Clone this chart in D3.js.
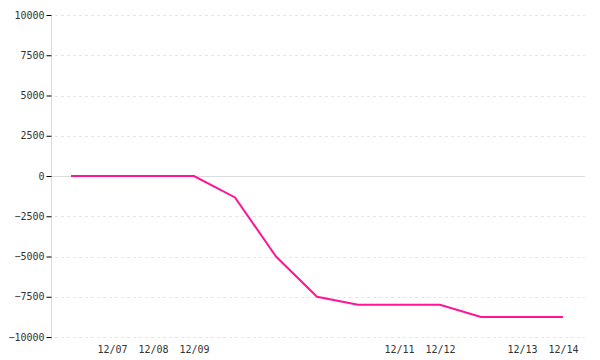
<!DOCTYPE html>
<html><head><meta charset="utf-8">
<script src="https://cdn.jsdelivr.net/npm/d3@7"></script>
<style>body{margin:0;background:#fff}svg text{font-family:"DejaVu Sans Mono",monospace;font-size:10px;fill:#333}</style>
</head><body><svg id="c" width="600" height="360"></svg>
<script>
const categories = ["", "12/07", "12/08", "12/09", "", "", "", "", "12/11", "12/12", "", "12/13", "12/14"];
const values = [0, 0, 0, 0, -1330, -5000, -7500, -8000, -8000, -8000, -8750, -8750, -8750];
const yTicks = [10000, 7500, 5000, 2500, 0, -2500, -5000, -7500, -10000];

const svg = d3.select("#c");
const m = {l: 51, r: 15, t: 15, b: 23};
const W = 600, H = 360;
const idx = categories.map((d, i) => i);
const x = d3.scalePoint().domain(idx).range([71, 563]);
const y = d3.scaleLinear().domain([-10000, 10000]).range([337, 15]);

// grid
svg.append("g").selectAll("line").data(yTicks.filter(d => d !== 0)).join("line")
  .attr("x1", m.l + 4).attr("x2", W - m.r).attr("y1", d => Math.round(y(d)) + 0.5).attr("y2", d => Math.round(y(d)) + 0.5)
  .attr("stroke", "#e6e6e6").attr("stroke-dasharray", "3,3");
svg.append("line").attr("x1", m.l).attr("x2", W - m.r)
  .attr("y1", Math.round(y(0)) + 0.5).attr("y2", Math.round(y(0)) + 0.5).attr("stroke", "#dddddd");

// y axis
const ya = svg.append("g").attr("transform", `translate(${m.l + 0.5},0)`)
  .call(d3.axisLeft(y).tickValues(yTicks).tickSize(5).tickPadding(2).tickFormat(d3.format("d")));
ya.select(".domain").attr("stroke", "#dddddd").attr("d", `M0,${y(10000)}V${y(-10000) + 3}`);
ya.selectAll(".tick line").attr("stroke", "#000");
ya.selectAll(".tick text").attr("fill", "#333");

// x axis labels
const xa = svg.append("g").attr("transform", `translate(0,${y(-10000)})`)
  .call(d3.axisBottom(x).tickSize(0).tickPadding(9).tickFormat(i => categories[i]));
xa.select(".domain").remove();

// line
svg.append("path").datum(values)
  .attr("fill", "none").attr("stroke", "#ff1493").attr("stroke-width", 2)
  .attr("d", d3.line().x((d, i) => x(i)).y(d => y(d)));
</script></body></html>
